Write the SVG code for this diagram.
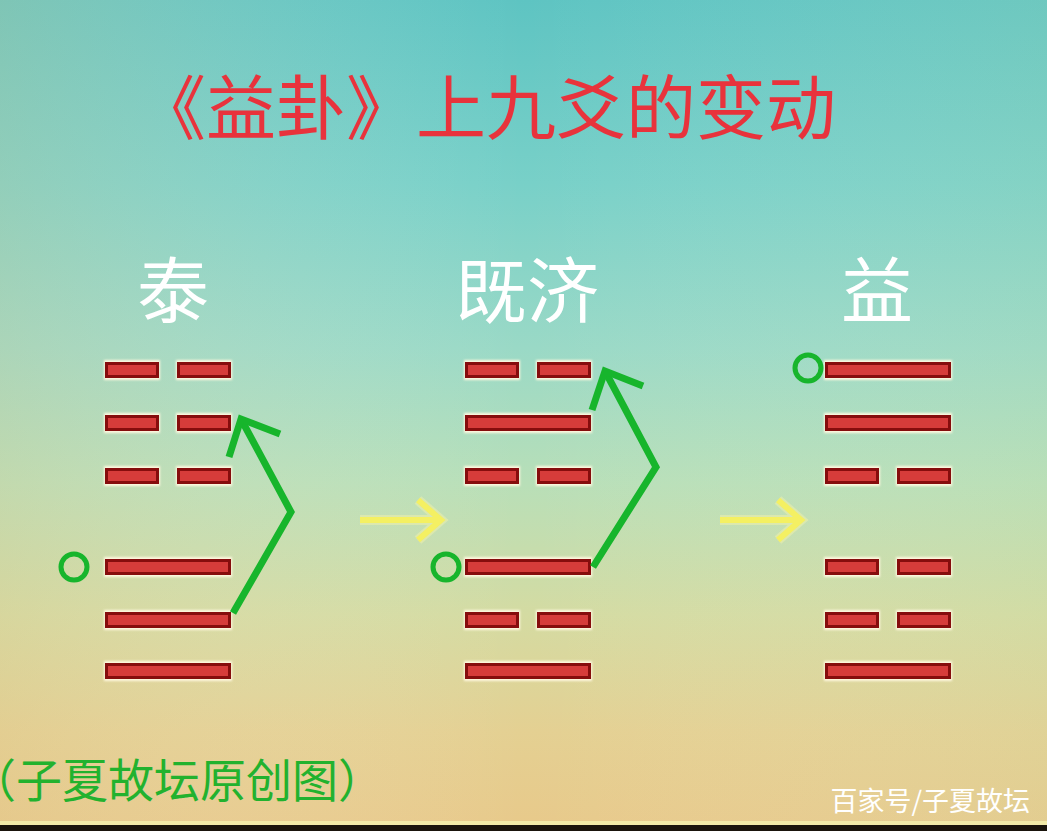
<svg xmlns="http://www.w3.org/2000/svg" xmlns:xlink="http://www.w3.org/1999/xlink" width="1047" height="831" viewBox="0 0 1047 831">
<defs>
<linearGradient id="bg" x1="0" y1="0" x2="0" y2="1">
<stop offset="0" stop-color="#5ec4c2"/>
<stop offset="0.22" stop-color="#78d0c8"/>
<stop offset="0.42" stop-color="#9ad9c6"/>
<stop offset="0.58" stop-color="#b8dfb8"/>
<stop offset="0.74" stop-color="#d4dba2"/>
<stop offset="0.88" stop-color="#e4d092"/>
<stop offset="1" stop-color="#e8c98a"/>
</linearGradient>
<linearGradient id="bgh" x1="0" y1="0" x2="1" y2="0">
<stop offset="0" stop-color="#e0c890" stop-opacity="0.25"/>
<stop offset="0.5" stop-color="#ffffff" stop-opacity="0"/>
<stop offset="1" stop-color="#c8e0b0" stop-opacity="0.15"/>
</linearGradient>
<filter id="soft" x="-10%" y="-40%" width="120%" height="180%"><feGaussianBlur stdDeviation="0.8"/></filter>
<g id="yang">
<rect x="0" y="-10" width="128" height="20" fill="#fff8df" filter="url(#soft)"/>
<rect x="2.5" y="-6.5" width="123" height="13" class="bar"/>
</g>
<g id="yin">
<rect x="0" y="-10" width="56" height="20" fill="#fff8df" filter="url(#soft)"/>
<rect x="72" y="-10" width="56" height="20" fill="#fff8df" filter="url(#soft)"/>
<rect x="2.5" y="-6.5" width="51" height="13" class="bar"/>
<rect x="74.5" y="-6.5" width="51" height="13" class="bar"/>
</g>
</defs>
<style>
.bar{fill:#d63c3a;stroke:#860d0d;stroke-width:3}
.lbl{font-family:"Noto Sans CJK SC","Noto Sans CJK TC",sans-serif;font-size:72px;fill:#ffffff;text-anchor:middle}
.circ{fill:none;stroke:#17b52c;stroke-width:5}
.garrow{fill:none;stroke:#17b52c;stroke-width:7;stroke-linejoin:miter;stroke-linecap:butt}
.yarrow{fill:none;stroke:#f4f062;stroke-width:6}
.yglow{fill:none;stroke:#f8f4a8;stroke-width:10;opacity:0.45}
</style>
<rect width="1047" height="831" fill="url(#bg)"/>
<rect width="1047" height="831" fill="url(#bgh)"/>
<rect x="0" y="821" width="1047" height="4" fill="#f2eaa8"/>
<rect x="0" y="825" width="1047" height="6" fill="#1a140c"/>

<g id="title">
<text x="486" y="134" text-anchor="middle" font-family="Noto Sans CJK SC, Noto Sans CJK TC, sans-serif" font-size="70" fill="#e8333c">《益卦》上九爻的变动</text>
</g>

<g id="tai">
<text class="lbl" x="173" y="317">泰</text>
<use href="#yin" x="104" y="370"/>
<use href="#yin" x="104" y="423"/>
<use href="#yin" x="104" y="476"/>
<use href="#yang" x="104" y="567"/>
<use href="#yang" x="104" y="620"/>
<use href="#yang" x="104" y="671"/>
<circle class="circ" cx="74" cy="567" r="13"/>
</g>

<g id="jiji">
<text class="lbl" x="527" y="317">既济</text>
<use href="#yin" x="464" y="370"/>
<use href="#yang" x="464" y="423"/>
<use href="#yin" x="464" y="476"/>
<use href="#yang" x="464" y="567"/>
<use href="#yin" x="464" y="620"/>
<use href="#yang" x="464" y="671"/>
<circle class="circ" cx="446" cy="567" r="13"/>
</g>

<g id="yi">
<text class="lbl" x="877" y="317">益</text>
<use href="#yang" x="824" y="370"/>
<use href="#yang" x="824" y="423"/>
<use href="#yin" x="824" y="476"/>
<use href="#yin" x="824" y="567"/>
<use href="#yin" x="824" y="620"/>
<use href="#yang" x="824" y="671"/>
<circle class="circ" cx="808" cy="368" r="13"/>
</g>

<g id="connectors">
<path class="yglow" d="M360 520 H440 M418 500 L441 520 L418 540"/>
<path class="yarrow" d="M360 520 H440 M418 500 L441 520 L418 540"/>
<path class="yglow" d="M720 520 H801 M778 500 L801 520 L778 540"/>
<path class="yarrow" d="M720 520 H801 M778 500 L801 520 L778 540"/>
<path class="garrow" d="M233 613 L291 512 L241 419"/>
<path class="garrow" d="M229 457 L241 419 L280 434"/>
<path class="garrow" d="M593 567 L656 467 L605 371"/>
<path class="garrow" d="M592 410 L605 371 L643 386"/>
</g>

<g id="credit">
<text x="-30" y="797" font-family="Noto Sans CJK SC, Noto Sans CJK TC, sans-serif" font-size="46" fill="#22b22e">（子夏故坛原创图）</text>
<text x="1030" y="811" text-anchor="end" font-family="Noto Sans CJK SC, Noto Sans CJK TC, sans-serif" font-size="27" fill="#ffffff">百家号/子夏故坛</text>
</g>
</svg>
